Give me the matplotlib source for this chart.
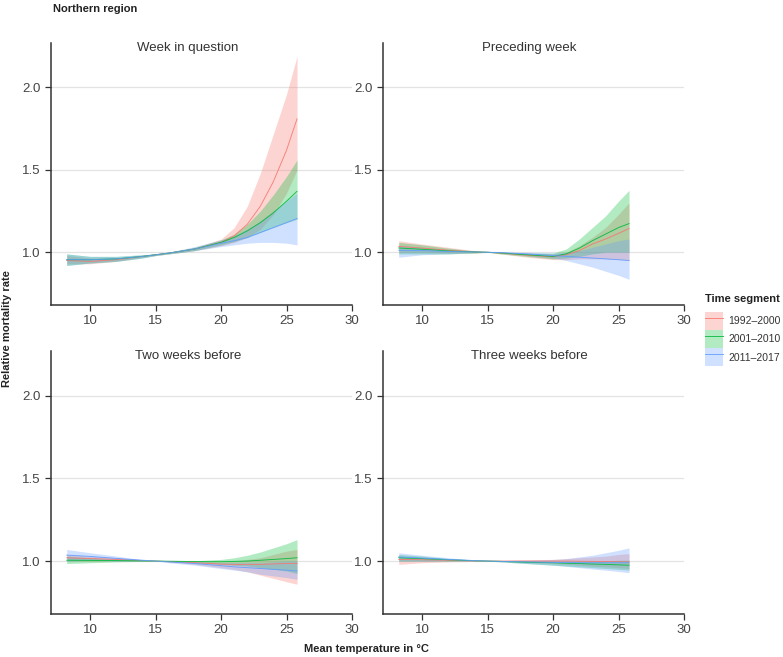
import matplotlib
matplotlib.use("Agg")
import matplotlib.pyplot as plt
from matplotlib.patches import Patch
from matplotlib.lines import Line2D
import numpy as np

plt.rcParams['font.family'] = ['Liberation Sans', 'DejaVu Sans']

# temperature grid the curves were read at
temp = [8.2, 10, 12, 14, 15, 16, 18, 20, 21, 22, 23, 24, 25, 25.8]

segments = ['1992\u20132000', '2001\u20132010', '2011\u20132017']
colors = ['#F8766D', '#00BA38', '#619CFF']
panels = ['Week in question', 'Preceding week', 'Two weeks before', 'Three weeks before']

# week in question
w0_92 = [0.95, 0.945, 0.955, 0.975, 0.985, 0.995, 1.02, 1.06, 1.10, 1.17, 1.28, 1.43, 1.62, 1.81]
w0_92_hi = [0.98, 0.965, 0.965, 0.98, 0.99, 1.0, 1.03, 1.08, 1.15, 1.28, 1.48, 1.72, 1.96, 2.19]
w0_92_lo = [0.93, 0.93, 0.945, 0.97, 0.98, 0.99, 1.01, 1.04, 1.06, 1.09, 1.14, 1.23, 1.36, 1.50]
w0_01 = [0.955, 0.955, 0.96, 0.975, 0.985, 0.995, 1.02, 1.06, 1.09, 1.13, 1.18, 1.24, 1.31, 1.37]
w0_01_hi = [0.99, 0.975, 0.975, 0.985, 0.99, 1.0, 1.03, 1.075, 1.11, 1.17, 1.25, 1.35, 1.46, 1.56]
w0_01_lo = [0.92, 0.935, 0.945, 0.965, 0.98, 0.99, 1.01, 1.045, 1.065, 1.09, 1.12, 1.15, 1.18, 1.20]
w0_11 = [0.955, 0.955, 0.96, 0.975, 0.985, 0.995, 1.02, 1.055, 1.07, 1.09, 1.12, 1.15, 1.18, 1.205]
w0_11_hi = [0.99, 0.975, 0.975, 0.985, 0.99, 1.0, 1.035, 1.075, 1.10, 1.14, 1.19, 1.25, 1.31, 1.36]
w0_11_lo = [0.92, 0.935, 0.945, 0.965, 0.98, 0.99, 1.01, 1.035, 1.045, 1.055, 1.06, 1.06, 1.055, 1.045]

# preceding week
w1_92 = [1.036, 1.025, 1.012, 1.003, 1.0, 0.995, 0.982, 0.972, 0.985, 1.01, 1.05, 1.08, 1.115, 1.144]
w1_92_hi = [1.07, 1.05, 1.03, 1.01, 1.0, 1.0, 0.995, 0.99, 1.0, 1.04, 1.09, 1.15, 1.23, 1.30]
w1_92_lo = [1.0, 1.0, 0.995, 0.995, 1.0, 0.99, 0.97, 0.955, 0.955, 0.96, 0.96, 0.96, 0.955, 0.95]
w1_01 = [1.026, 1.018, 1.008, 1.002, 1.0, 0.996, 0.985, 0.975, 0.99, 1.025, 1.07, 1.11, 1.15, 1.174]
w1_01_hi = [1.06, 1.045, 1.025, 1.008, 1.0, 1.0, 0.995, 0.995, 1.02, 1.08, 1.15, 1.22, 1.31, 1.376]
w1_01_lo = [0.99, 0.99, 0.99, 0.995, 1.0, 0.99, 0.975, 0.96, 0.965, 0.975, 0.99, 1.0, 1.0, 1.0]
w1_11 = [1.012, 1.01, 1.005, 1.002, 1.0, 0.998, 0.99, 0.98, 0.975, 0.97, 0.965, 0.96, 0.955, 0.95]
w1_11_hi = [1.04, 1.03, 1.015, 1.005, 1.0, 1.0, 1.0, 0.995, 1.0, 1.01, 1.03, 1.05, 1.07, 1.08]
w1_11_lo = [0.97, 0.985, 0.99, 0.998, 1.0, 0.995, 0.98, 0.965, 0.95, 0.93, 0.91, 0.885, 0.86, 0.836]

# two weeks before
w2_92 = [1.02, 1.015, 1.01, 1.003, 1.0, 0.997, 0.99, 0.982, 0.98, 0.98, 0.98, 0.983, 0.985, 0.986]
w2_92_hi = [1.04, 1.03, 1.02, 1.005, 1.0, 1.0, 1.0, 0.995, 1.0, 1.01, 1.02, 1.04, 1.06, 1.07]
w2_92_lo = [1.0, 1.0, 1.0, 1.0, 1.0, 0.995, 0.98, 0.96, 0.95, 0.935, 0.915, 0.895, 0.875, 0.86]
w2_01 = [1.005, 1.004, 1.003, 1.001, 1.0, 0.999, 0.997, 0.996, 0.998, 1.0, 1.005, 1.01, 1.015, 1.02]
w2_01_hi = [1.03, 1.02, 1.01, 1.003, 1.0, 1.0, 1.002, 1.01, 1.02, 1.035, 1.055, 1.08, 1.105, 1.13]
w2_01_lo = [0.985, 0.99, 0.995, 0.998, 1.0, 0.997, 0.99, 0.98, 0.975, 0.97, 0.96, 0.95, 0.94, 0.925]
w2_11 = [1.036, 1.028, 1.016, 1.005, 1.0, 0.995, 0.985, 0.972, 0.965, 0.96, 0.955, 0.95, 0.945, 0.94]
w2_11_hi = [1.07, 1.05, 1.03, 1.008, 1.0, 1.0, 0.997, 0.99, 0.99, 0.99, 0.99, 0.995, 1.0, 1.0]
w2_11_lo = [1.0, 1.005, 1.0, 1.0, 1.0, 0.99, 0.975, 0.955, 0.945, 0.935, 0.92, 0.91, 0.9, 0.89]

# three weeks before
w3_92 = [1.01, 1.008, 1.005, 1.001, 1.0, 1.0, 1.0, 1.0, 1.0, 0.999, 0.998, 0.997, 0.996, 0.995]
w3_92_hi = [1.03, 1.02, 1.01, 1.003, 1.0, 1.003, 1.008, 1.01, 1.015, 1.02, 1.025, 1.03, 1.04, 1.045]
w3_92_lo = [0.98, 0.99, 0.995, 0.998, 1.0, 0.998, 0.99, 0.985, 0.98, 0.975, 0.97, 0.965, 0.96, 0.955]
w3_01 = [1.02, 1.015, 1.008, 1.002, 1.0, 0.998, 0.993, 0.99, 0.987, 0.985, 0.982, 0.98, 0.977, 0.975]
w3_01_hi = [1.04, 1.03, 1.015, 1.005, 1.0, 1.0, 1.0, 1.0, 1.0, 1.0, 1.0, 1.0, 1.005, 1.005]
w3_01_lo = [1.0, 1.0, 1.0, 1.0, 1.0, 0.995, 0.985, 0.975, 0.97, 0.965, 0.96, 0.955, 0.95, 0.945]
w3_11 = [1.025, 1.018, 1.01, 1.003, 1.0, 0.998, 0.995, 0.992, 0.991, 0.99, 0.99, 0.99, 0.99, 0.99]
w3_11_hi = [1.05, 1.035, 1.02, 1.006, 1.0, 1.0, 1.003, 1.01, 1.015, 1.025, 1.035, 1.05, 1.065, 1.08]
w3_11_lo = [1.0, 1.0, 1.0, 1.0, 1.0, 0.995, 0.985, 0.975, 0.968, 0.96, 0.952, 0.945, 0.937, 0.93]

data = [
    [(w0_92, w0_92_lo, w0_92_hi), (w0_01, w0_01_lo, w0_01_hi), (w0_11, w0_11_lo, w0_11_hi)],
    [(w1_92, w1_92_lo, w1_92_hi), (w1_01, w1_01_lo, w1_01_hi), (w1_11, w1_11_lo, w1_11_hi)],
    [(w2_92, w2_92_lo, w2_92_hi), (w2_01, w2_01_lo, w2_01_hi), (w2_11, w2_11_lo, w2_11_hi)],
    [(w3_92, w3_92_lo, w3_92_hi), (w3_01, w3_01_lo, w3_01_hi), (w3_11, w3_11_lo, w3_11_hi)],
]

W, H = 783, 657
fig = plt.figure(figsize=(W / 100, H / 100), dpi=100)

# panel boxes in pixels: left, top, right, bottom
boxes = [(51, 43, 352, 305), (383, 43, 684, 305),
         (51, 351, 352, 614), (383, 351, 684, 614)]
title_x = [0.455, 0.485, 0.455, 0.485]

for k, (l, t, r, b) in enumerate(boxes):
    ax = fig.add_axes([l / W, 1 - b / H, (r - l) / W, (b - t) / H])
    for yv in [1.0, 1.5, 2.0]:
        ax.axhline(yv, color='#e3e3e3', lw=0.9, zorder=0)
    x = np.array(temp)
    for (mid, lo, hi), c in zip(data[k], colors):
        ax.fill_between(x, lo, hi, color=c, alpha=0.3, lw=0)
    for (mid, lo, hi), c in zip(data[k], colors):
        ax.plot(x, mid, color=c, lw=0.65, alpha=0.9)
    ax.set_xlim(7, 30)
    ax.set_ylim(0.68, 2.27)
    ax.set_xticks([10, 15, 20, 25, 30])
    ax.set_yticks([1.0, 1.5, 2.0])
    ax.set_yticklabels(['1.0', '1.5', '2.0'])
    for s in ['top', 'right']:
        ax.spines[s].set_visible(False)
    for s in ['left', 'bottom']:
        ax.spines[s].set_color('#333333')
        ax.spines[s].set_linewidth(1.1)
    ax.tick_params(axis='both', colors='#333333', labelsize=9.5, width=0.9, length=4,
                   labelcolor='#444444')
    ax.text(title_x[k], 0.982, panels[k], transform=ax.transAxes, ha='center', va='center',
            fontsize=9.5, color='#333333')

fig.text(53 / W, 1 - 4 / H, 'Northern region', ha='left', va='top',
         fontsize=8, fontweight='bold', color='#222222')
fig.text(7 / W, 1 - 329 / H, 'Relative mortality rate', rotation=90, ha='center', va='center',
         fontsize=8, fontweight='bold', color='#222222')
fig.text(366 / W, 1 - 649 / H, 'Mean temperature in \u00b0C', ha='center', va='center',
         fontsize=8, fontweight='bold', color='#222222')

# legend: title as its own text, keys below it
fig.text(705 / W, 1 - 299 / H, 'Time segment', ha='left', va='center',
         fontsize=8, fontweight='bold', color='#222222')
handles = [(Patch(facecolor=c, alpha=0.3, lw=0), Line2D([], [], color=c, lw=0.65, alpha=0.9))
           for c in colors]
leg = fig.legend(handles, segments, loc='upper left',
                 bbox_to_anchor=(705 / W, 1 - 312 / H), frameon=False,
                 fontsize=7.5, handlelength=1.75, handleheight=2.3, labelspacing=0.0,
                 handletextpad=0.5, borderpad=0, borderaxespad=0)
for t in leg.get_texts():
    t.set_color('#333333')

fig.savefig('out.png', dpi=100)
